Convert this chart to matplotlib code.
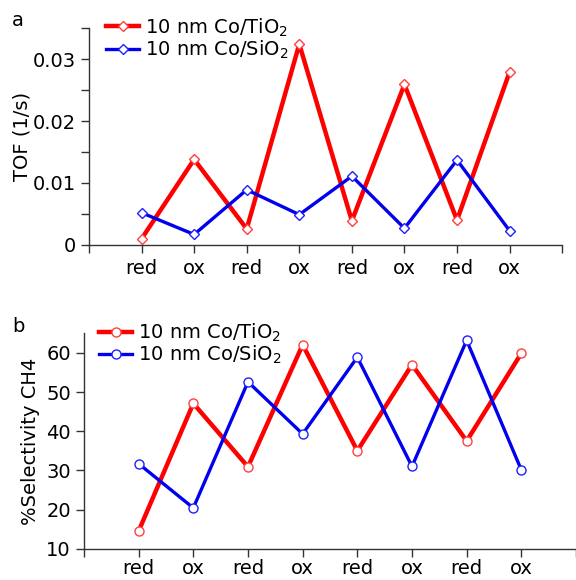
import matplotlib
matplotlib.use('Agg')
import matplotlib.pyplot as plt
from matplotlib.ticker import MultipleLocator

# Data
steps = ['red', 'ox', 'red', 'ox', 'red', 'ox', 'red', 'ox']
tof_tio2 = [0.0010, 0.0138, 0.0026, 0.0324, 0.0039, 0.0259, 0.0040, 0.0279]
tof_sio2 = [0.0052, 0.0017, 0.0089, 0.0049, 0.0111, 0.0027, 0.0137, 0.0023]
sel_tio2 = [14.5, 47.1, 30.9, 62.1, 35.0, 57.0, 37.5, 59.9]
sel_sio2 = [31.7, 20.4, 52.6, 39.3, 58.9, 31.0, 63.2, 30.1]

plt.rcParams['font.family'] = ['DejaVu Sans']
axis_col = '#333333'
fs = 14

fig = plt.figure(figsize=(5.76, 5.80), dpi=100)
ax1 = fig.add_axes([0.1545, 0.5776, 0.8215, 0.3741])
ax2 = fig.add_axes([0.1458, 0.054, 0.8542, 0.3713])

x = list(range(1, len(steps) + 1))


def style(ax, xpad):
    for s in ['top', 'right']:
        ax.spines[s].set_visible(False)
    for s in ['left', 'bottom']:
        ax.spines[s].set_color(axis_col)
        ax.spines[s].set_linewidth(1.0)
    ax.set_xlim(0, len(steps) + 1)
    ax.set_xticks(range(0, len(steps) + 2))
    ax.set_xticklabels([''] + steps + [''], fontsize=fs)
    ax.tick_params(axis='both', direction='out', color=axis_col, length=6,
                   width=1.0, labelsize=fs, colors='black')
    ax.tick_params(axis='x', pad=xpad)
    ax.tick_params(axis='y', which='minor', direction='out', length=6,
                   width=1.0, color=axis_col)


# Panel a
ax1.plot(x, tof_tio2, color='#ff0000', lw=3.2, marker='D', ms=5,
         mfc='white', mec='#ff4040', mew=1.0, label='10 nm Co/TiO$_2$')
ax1.plot(x, tof_sio2, color='#0000ee', lw=2.4, marker='D', ms=5,
         mfc='white', mec='#2020ff', mew=1.0, label='10 nm Co/SiO$_2$')
style(ax1, 4)
ax1.set_ylim(0, 0.035)
ax1.set_yticks([0, 0.01, 0.02, 0.03])
ax1.set_yticklabels(['0', '0.01', '0.02', '0.03'])
ax1.yaxis.set_minor_locator(MultipleLocator(0.005))
ax1.set_ylabel('TOF (1/s)', fontsize=fs, labelpad=1)
ax1.legend(loc='upper left', bbox_to_anchor=(0.02, 1.09), frameon=False,
           fontsize=fs, handlelength=1.7, handletextpad=0.3, labelspacing=0.0,
           borderaxespad=0)

# Panel b
ax2.plot(x, sel_tio2, color='#ff0000', lw=3.2, marker='o', ms=6.5,
         mfc='white', mec='#ff4040', mew=1.0, label='10 nm Co/TiO$_2$')
ax2.plot(x, sel_sio2, color='#0000ee', lw=2.4, marker='o', ms=6.5,
         mfc='white', mec='#2020ff', mew=1.0, label='10 nm Co/SiO$_2$')
style(ax2, 1.5)
ax2.set_ylim(10, 65)
ax2.set_yticks([10, 20, 30, 40, 50, 60])
ax2.set_ylabel('%Selectivity CH4', fontsize=fs, labelpad=4)
ax2.legend(loc='upper left', bbox_to_anchor=(0.015, 1.09), frameon=False,
           fontsize=fs, handlelength=1.7, handletextpad=0.3, labelspacing=0.0,
           borderaxespad=0)

fig.text(12 / 576, 1 - 20 / 580, 'a', fontsize=fs, va='center', ha='left')
fig.text(12 / 576, 1 - 326 / 580, 'b', fontsize=fs, va='center', ha='left')

fig.savefig('out.png', dpi=100)
